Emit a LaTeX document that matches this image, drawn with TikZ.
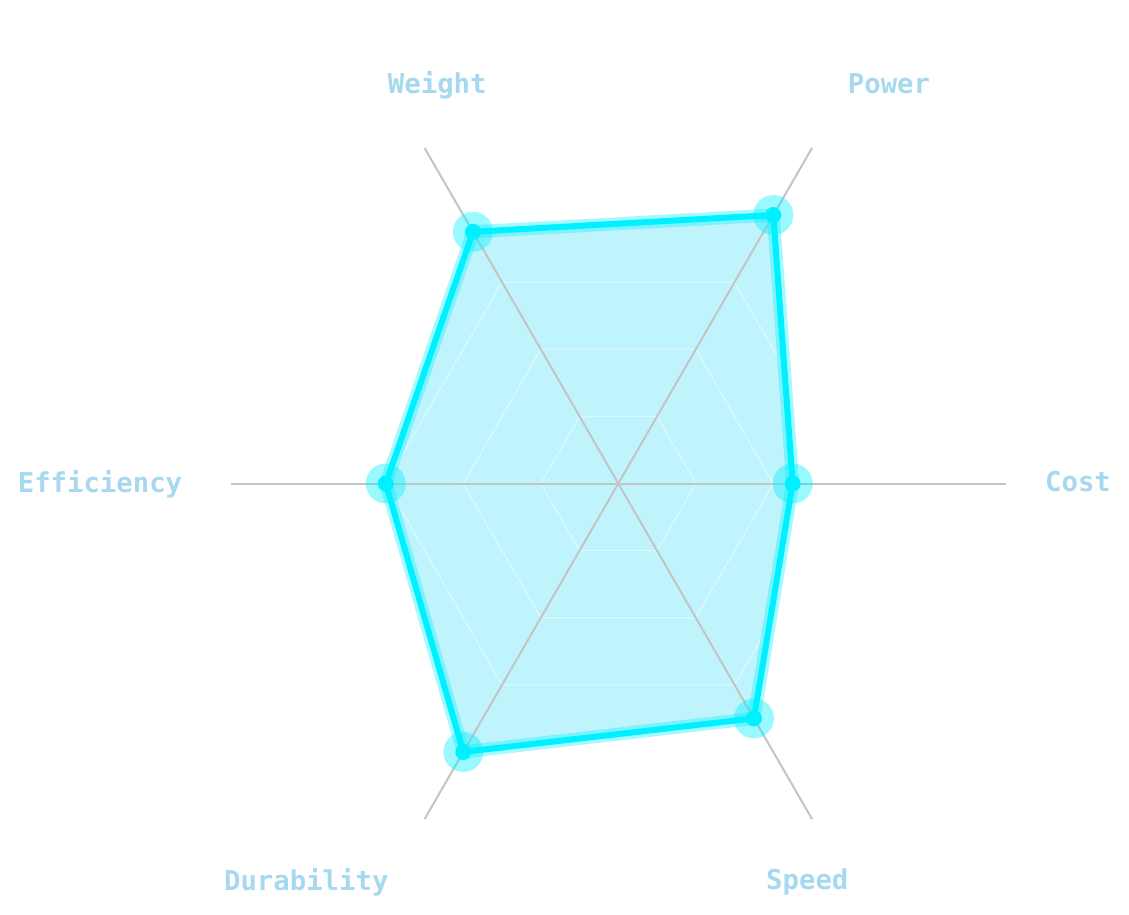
\documentclass[tikz,border=0pt]{standalone}
\usepackage{fontspec}
\newfontfamily\labelfont{DejaVu Sans Mono}
\usetikzlibrary{calc}
\definecolor{radarcyan}{RGB}{0,240,255}
\definecolor{radarfill}{RGB}{192,244,252}
\definecolor{axisgray}{RGB}{196,196,196}
\definecolor{labelblue}{RGB}{166,216,240}

\begin{document}
\begin{tikzpicture}[x=1pt,y=1pt] % tikzpicture環境開始
\useasboundingbox (0,0) rectangle (1129,914);
\coordinate (c) at (618.3,430.5);
\foreach \name/\angle/\val in%
{%
	cost/0/0.45,power/60/0.80,weight/120/0.75,efficiency/180/0.60,durability/240/0.80,speed/300/0.70%
}{%
	\coordinate (\name) at ($(c)+(\angle:\val*387.5)$);
	\coordinate (end-\name) at ($(c)+(\angle:387.5)$);
}%
\fill[radarfill] (cost) -- (power) -- (weight) -- (efficiency) -- (durability) -- (speed) -- cycle;
\foreach \k in%
{%
	1,2,3,4,5%
}{%
	\draw[white,opacity=0.45,line width=1.2pt] ($(c)+(0:\k*77.5)$)%
	\foreach \angle in {60,120,180,240,300}{-- ($(c)+(\angle:\k*77.5)$)} -- cycle;
}%
\foreach \name in%
{%
	cost,power,weight,efficiency,durability,speed%
}{%
	\draw[axisgray,line width=2pt] (c) -- (end-\name);
}%
\draw[radarcyan,opacity=0.35,line width=13pt,line join=round] (cost) -- (power) -- (weight) -- (efficiency) -- (durability) -- (speed) -- cycle;
\draw[radarcyan,line width=6pt,line join=round] (cost) -- (power) -- (weight) -- (efficiency) -- (durability) -- (speed) -- cycle;
\foreach \name in%
{%
	cost,power,weight,efficiency,durability,speed%
}{%
	\fill[radarcyan,opacity=0.4] (\name) circle [radius=20pt];
	\fill[radarcyan] (\name) circle [radius=8pt];
}%
\foreach \name/\x/\y/\text in%
{%
	cost/1078/422.3/Cost,power/889/820.7/Power,weight/437.3/820.7/Weight,%
	efficiency/100/422/Efficiency,durability/306.3/24/Durability,speed/807.3/24.5/Speed%
}{%
	\node[font=\labelfont\bfseries\fontsize{27.3}{27.3}\selectfont,text=labelblue,anchor=base,inner sep=0pt] (label-\name) at (\x,\y) {\text};
}%
\end{tikzpicture}
\end{document}
